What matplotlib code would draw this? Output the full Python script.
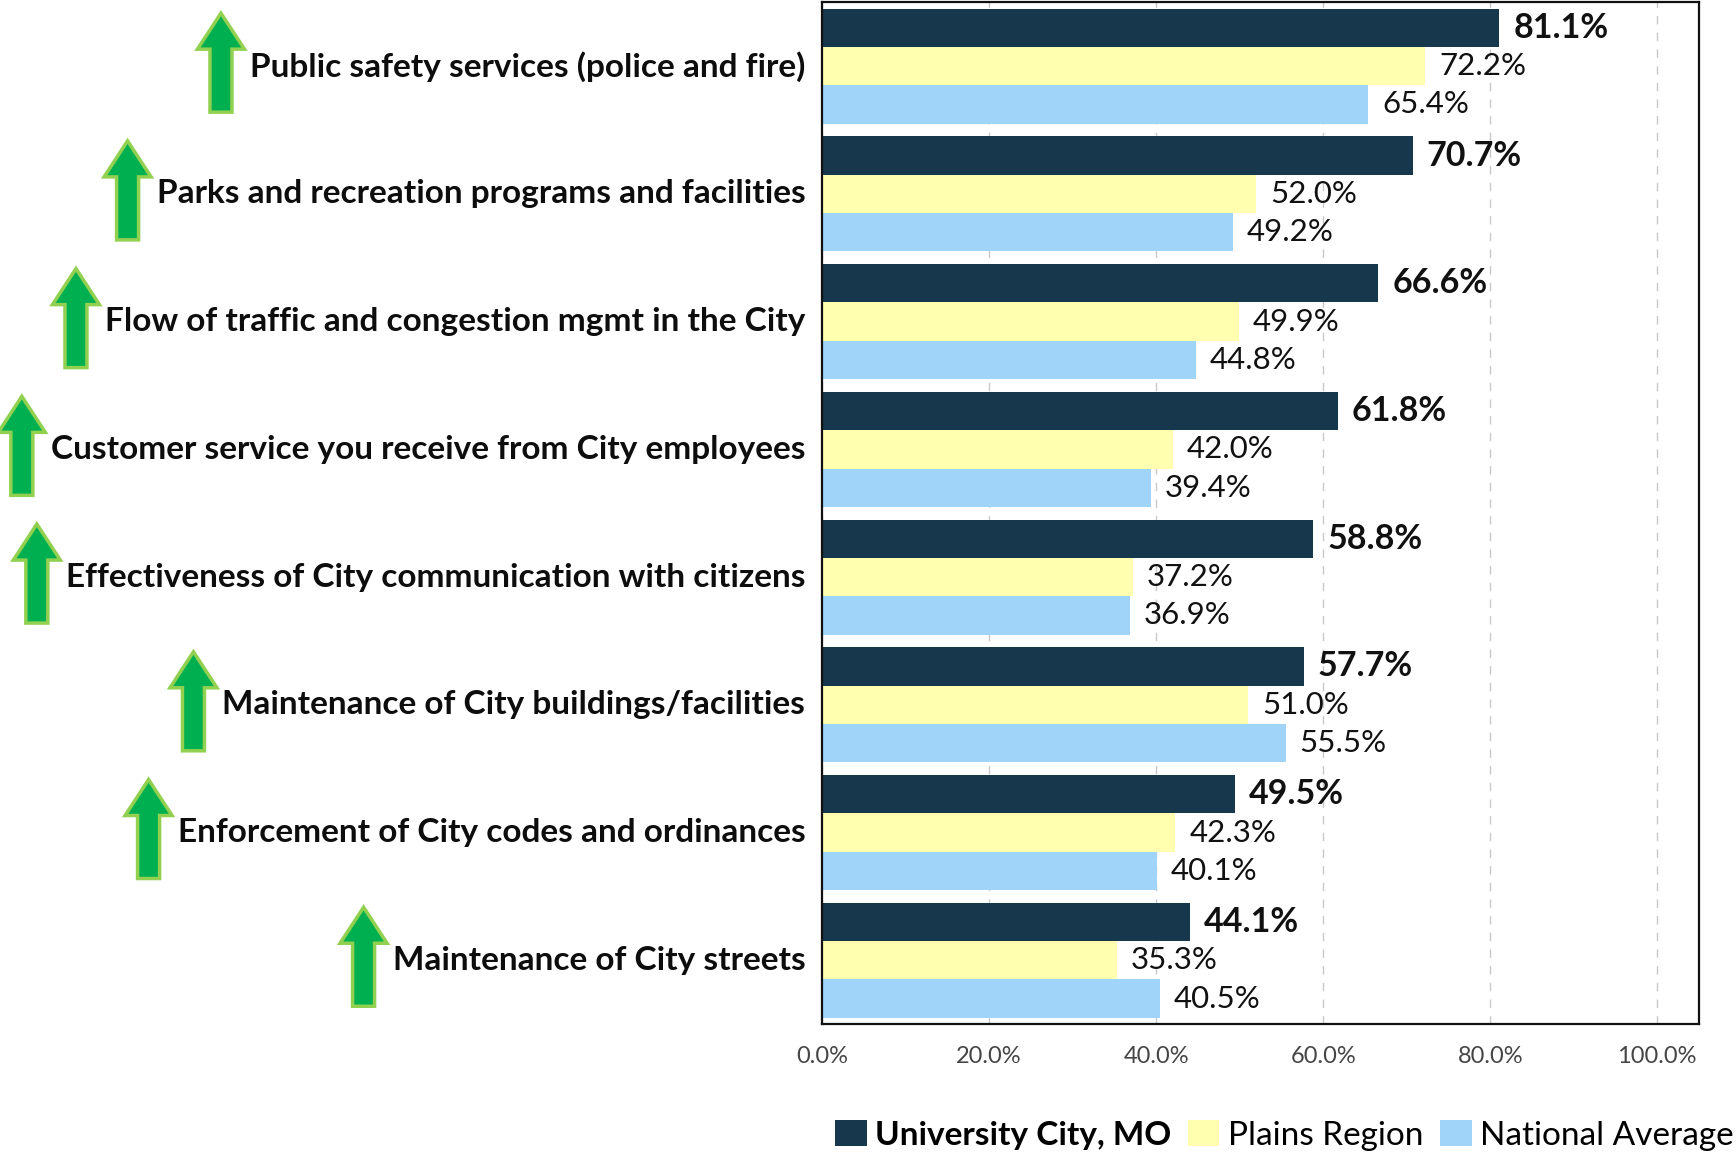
import matplotlib.pyplot as plt
import numpy as np
from matplotlib.patches import FancyArrow
from matplotlib.transforms import IdentityTransform
from matplotlib.ticker import FuncFormatter

categories = [
    "Public safety services (police and fire)",
    "Parks and recreation programs and facilities",
    "Flow of traffic and congestion mgmt in the City",
    "Customer service you receive from City employees",
    "Effectiveness of City communication with citizens",
    "Maintenance of City buildings/facilities",
    "Enforcement of City codes and ordinances",
    "Maintenance of City streets",
]
university_city = [81.1, 70.7, 66.6, 61.8, 58.8, 57.7, 49.5, 44.1]
plains_region = [72.2, 52.0, 49.9, 42.0, 37.2, 51.0, 42.3, 35.3]
national_avg = [65.4, 49.2, 44.8, 39.4, 36.9, 55.5, 40.1, 40.5]
series_names = ["University City, MO", "Plains Region", "National Average"]
colors = ["#16374C", "#FFFFAF", "#A0D4F8"]

plt.rcParams["font.family"] = ["Lato", "DejaVu Sans"]

fig = plt.figure(figsize=(17.36, 11.52), dpi=100)
ax = fig.add_axes([0.4735, 0.111, 0.5052, 0.887])

n = len(categories)
y = np.arange(n)
h = 0.3
series = [university_city, plains_region, national_avg]
for i, (vals, name, c) in enumerate(zip(series, series_names, colors)):
    ypos = y + (i - 1) * h
    ax.barh(ypos, vals, height=h, color=c, label=name, zorder=2)
    for yy, v in zip(ypos, vals):
        ax.annotate(f"{v:.1f}%", (v, yy), xytext=(10, 0), textcoords="offset points",
                    va="center", ha="left", fontsize=24.5 if i == 0 else 22.5,
                    fontweight="bold" if i == 0 else "normal", color="#111111")

ax.set_xlim(0, 105)
ax.set_ylim(n - 0.5, -0.5)
ax.set_xticks([0, 20, 40, 60, 80, 100])
ax.xaxis.set_major_formatter(FuncFormatter(lambda v, p: f"{v:.1f}%"))
ax.tick_params(axis="x", length=0, labelsize=17, labelcolor="#454545", pad=16)
ax.set_yticks([])
ax.grid(axis="x", color="#C8C8C8", linestyle=(0, (6, 6)), linewidth=1, zorder=0)
for s in ax.spines.values():
    s.set_linewidth(1.6)
    s.set_color("#111111")

# category labels with green up arrows
labels = []
for i, cat in enumerate(categories):
    t = ax.annotate(cat, (0, i), xytext=(-12, 0), textcoords="offset points",
                    ha="right", va="center", fontsize=24, fontweight="bold",
                    color="#0D0D0D", annotation_clip=False)
    labels.append(t)

fig.canvas.draw()
renderer = fig.canvas.get_renderer()
for i, t in enumerate(labels):
    bb = t.get_window_extent(renderer)
    cx = bb.x0 - 29
    cy = ax.transData.transform((0, i))[1]
    arrow = FancyArrow(cx, cy - 46, 0, 99, width=22, head_width=47, head_length=36,
                       length_includes_head=True, facecolor="#00B050",
                       edgecolor="#92D050", linewidth=2.5, transform=IdentityTransform())
    fig.add_artist(arrow)

leg = ax.legend(loc="center", bbox_to_anchor=(0.527, -0.109), ncol=3, frameon=False,
                fontsize=24, handlelength=0.95, handleheight=0.8, handletextpad=0.25,
                columnspacing=0.5)
leg.get_texts()[0].set_fontweight("bold")

fig.savefig("out.png", dpi=100)
